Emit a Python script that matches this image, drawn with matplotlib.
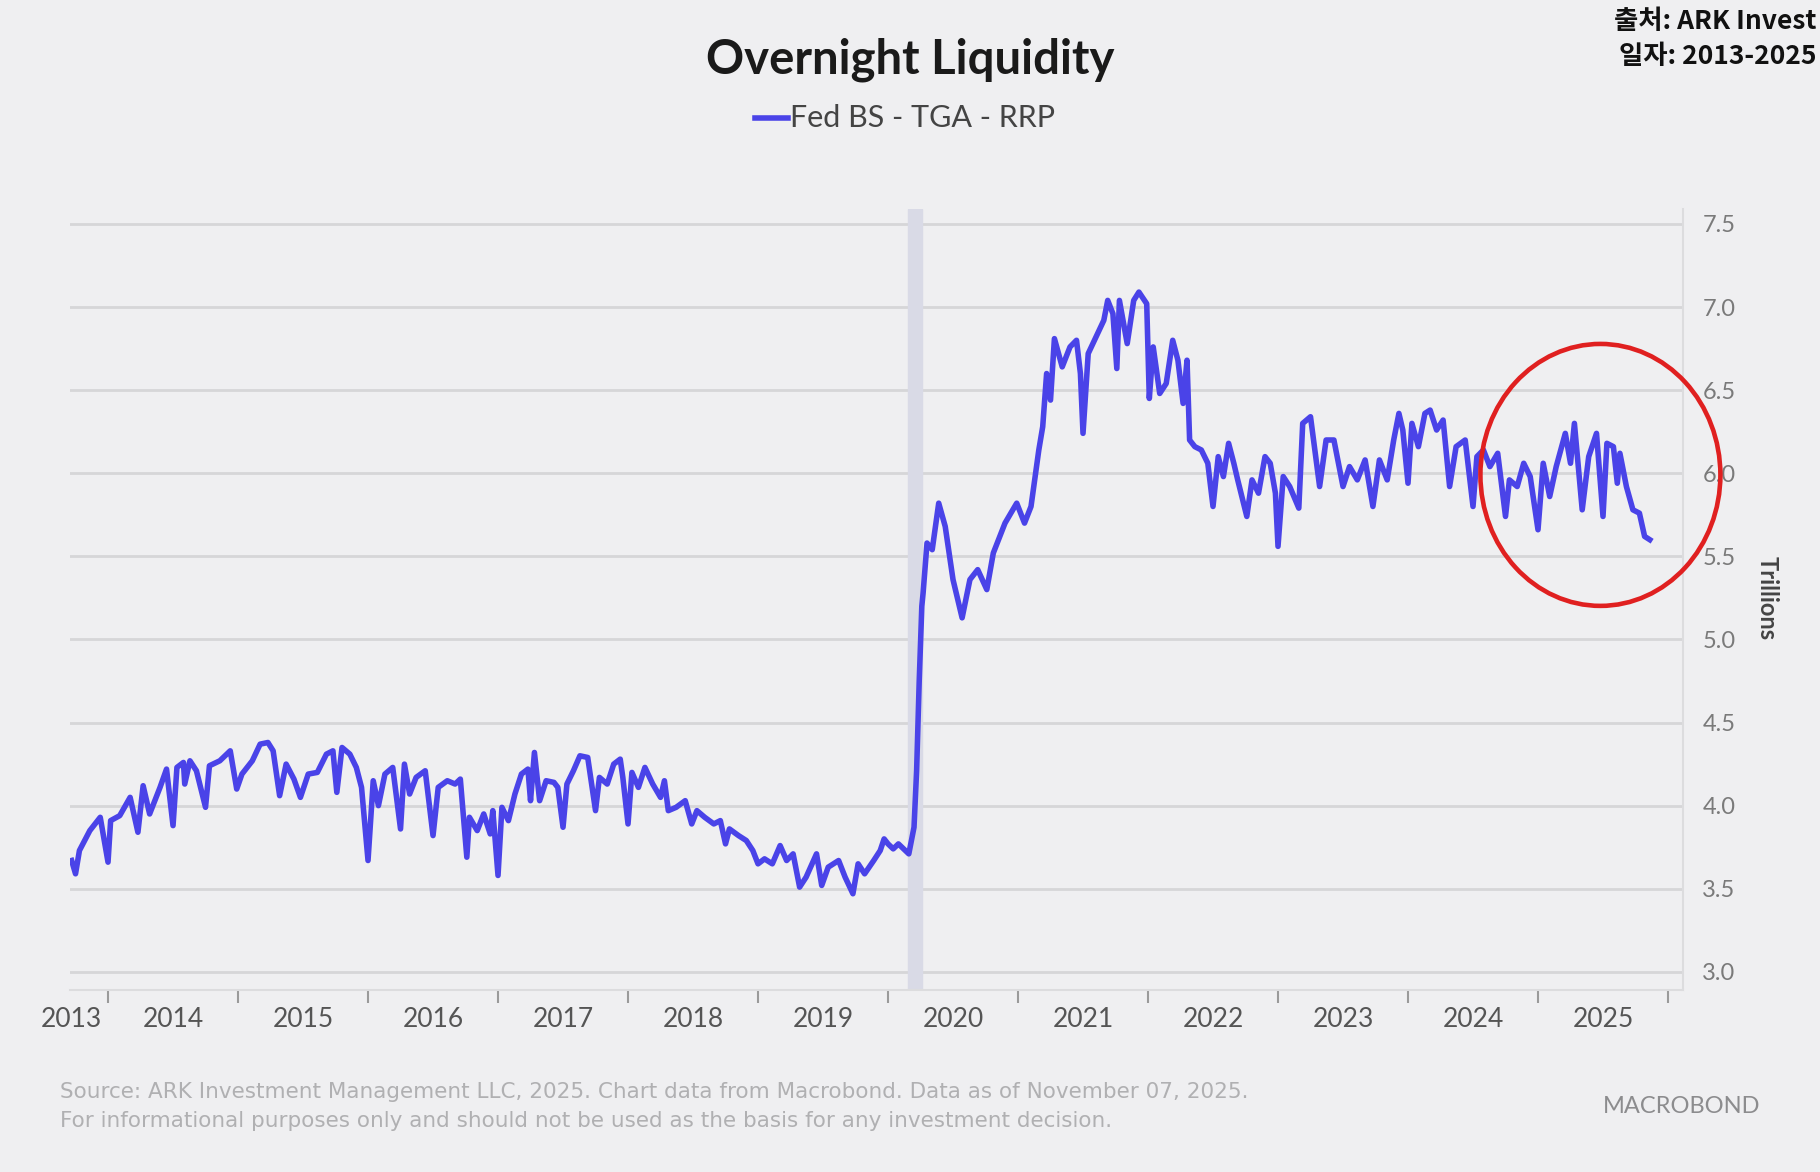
import numpy as np
import matplotlib.pyplot as plt
from matplotlib.patches import Ellipse

# Datos (año decimal, billones de USD)
years = np.array([
    2013.72, 2013.75, 2013.78, 2013.86, 2013.94, 2014.00, 2014.02, 2014.09, 2014.17, 2014.23,
    2014.27, 2014.32, 2014.40, 2014.45, 2014.50, 2014.53, 2014.58, 2014.59, 2014.63, 2014.68,
    2014.75, 2014.78, 2014.86, 2014.94, 2014.99, 2015.03, 2015.11, 2015.17, 2015.23, 2015.27,
    2015.32, 2015.37, 2015.43, 2015.48, 2015.54, 2015.61, 2015.68, 2015.73, 2015.76, 2015.80,
    2015.86, 2015.91, 2015.95, 2016.00, 2016.04, 2016.08, 2016.13, 2016.19, 2016.25, 2016.28,
    2016.32, 2016.37, 2016.44, 2016.50, 2016.54, 2016.61, 2016.67, 2016.71, 2016.76, 2016.78,
    2016.84, 2016.89, 2016.94, 2016.96, 2017.00, 2017.03, 2017.08, 2017.13, 2017.18, 2017.23,
    2017.25, 2017.28, 2017.32, 2017.37, 2017.43, 2017.46, 2017.50, 2017.53, 2017.58, 2017.63,
    2017.69, 2017.75, 2017.78, 2017.84, 2017.89, 2017.94, 2017.96, 2018.00, 2018.03, 2018.08,
    2018.13, 2018.19, 2018.25, 2018.28, 2018.31, 2018.37, 2018.44, 2018.49, 2018.53, 2018.59,
    2018.66, 2018.71, 2018.75, 2018.78, 2018.85, 2018.91, 2018.96, 2019.00, 2019.05, 2019.11,
    2019.17, 2019.22, 2019.27, 2019.32, 2019.37, 2019.45, 2019.49, 2019.54, 2019.62, 2019.67,
    2019.73, 2019.77, 2019.82, 2019.89, 2019.94, 2019.97, 2020.00, 2020.04, 2020.08, 2020.12,
    2020.16, 2020.20, 2020.22, 2020.24, 2020.26, 2020.27, 2020.30, 2020.34, 2020.39, 2020.44,
    2020.50, 2020.57, 2020.63, 2020.69, 2020.76, 2020.81, 2020.90, 2020.99, 2021.05, 2021.10,
    2021.16, 2021.19, 2021.22, 2021.25, 2021.28, 2021.34, 2021.40, 2021.45, 2021.48, 2021.50,
    2021.54, 2021.60, 2021.66, 2021.69, 2021.73, 2021.76, 2021.78, 2021.84, 2021.89, 2021.93,
    2021.99, 2022.01, 2022.04, 2022.09, 2022.14, 2022.19, 2022.23, 2022.27, 2022.30, 2022.32,
    2022.36, 2022.41, 2022.46, 2022.50, 2022.54, 2022.58, 2022.62, 2022.66, 2022.69, 2022.76,
    2022.80, 2022.85, 2022.90, 2022.94, 2022.98, 2023.00, 2023.04, 2023.09, 2023.16, 2023.19,
    2023.25, 2023.28, 2023.32, 2023.37, 2023.43, 2023.50, 2023.55, 2023.61, 2023.67, 2023.73,
    2023.78, 2023.84, 2023.89, 2023.93, 2023.96, 2024.00, 2024.03, 2024.08, 2024.13, 2024.17,
    2024.22, 2024.27, 2024.32, 2024.37, 2024.44, 2024.50, 2024.53, 2024.58, 2024.63, 2024.69,
    2024.75, 2024.78, 2024.84, 2024.89, 2024.94, 2025.00, 2025.04, 2025.09, 2025.14, 2025.21,
    2025.25, 2025.28, 2025.34, 2025.39, 2025.45, 2025.50, 2025.53, 2025.58, 2025.61, 2025.63,
    2025.68, 2025.73, 2025.78, 2025.82, 2025.86,
])
liquidez = np.array([
    3.67, 3.59, 3.73, 3.85, 3.93, 3.66, 3.91, 3.94, 4.05, 3.84,
    4.12, 3.95, 4.11, 4.22, 3.88, 4.23, 4.26, 4.13, 4.27, 4.21,
    3.99, 4.24, 4.27, 4.33, 4.10, 4.19, 4.27, 4.37, 4.38, 4.33,
    4.06, 4.25, 4.16, 4.05, 4.19, 4.20, 4.31, 4.33, 4.08, 4.35,
    4.31, 4.23, 4.11, 3.67, 4.15, 4.00, 4.19, 4.23, 3.86, 4.25,
    4.07, 4.17, 4.21, 3.82, 4.11, 4.15, 4.13, 4.16, 3.69, 3.93,
    3.85, 3.95, 3.83, 3.97, 3.58, 3.99, 3.91, 4.07, 4.19, 4.22,
    4.03, 4.32, 4.03, 4.15, 4.14, 4.11, 3.87, 4.13, 4.21, 4.30,
    4.29, 3.97, 4.17, 4.13, 4.25, 4.28, 4.17, 3.89, 4.20, 4.11,
    4.23, 4.13, 4.05, 4.15, 3.97, 3.99, 4.03, 3.89, 3.97, 3.93,
    3.89, 3.91, 3.77, 3.86, 3.82, 3.79, 3.73, 3.65, 3.68, 3.65,
    3.76, 3.67, 3.71, 3.51, 3.57, 3.71, 3.52, 3.63, 3.67, 3.57,
    3.47, 3.65, 3.59, 3.67, 3.73, 3.80, 3.77, 3.74, 3.77, 3.74,
    3.71, 3.87, 4.21, 4.75, 5.20, 5.28, 5.58, 5.54, 5.82, 5.68,
    5.36, 5.13, 5.36, 5.42, 5.30, 5.52, 5.70, 5.82, 5.70, 5.80,
    6.14, 6.28, 6.60, 6.44, 6.81, 6.64, 6.76, 6.80, 6.60, 6.24,
    6.72, 6.82, 6.92, 7.04, 6.96, 6.63, 7.04, 6.78, 7.04, 7.09,
    7.02, 6.45, 6.76, 6.48, 6.54, 6.80, 6.68, 6.42, 6.68, 6.20,
    6.16, 6.14, 6.06, 5.80, 6.10, 5.98, 6.18, 6.06, 5.96, 5.74,
    5.96, 5.88, 6.10, 6.06, 5.88, 5.56, 5.98, 5.92, 5.79, 6.30,
    6.34, 6.16, 5.92, 6.20, 6.20, 5.92, 6.04, 5.96, 6.08, 5.80,
    6.08, 5.96, 6.20, 6.36, 6.26, 5.94, 6.30, 6.16, 6.36, 6.38,
    6.26, 6.32, 5.92, 6.16, 6.20, 5.80, 6.10, 6.14, 6.04, 6.12,
    5.74, 5.96, 5.92, 6.06, 5.98, 5.66, 6.06, 5.86, 6.04, 6.24,
    6.06, 6.30, 5.78, 6.10, 6.24, 5.74, 6.18, 6.16, 5.94, 6.12,
    5.92, 5.78, 5.76, 5.62, 5.60,
])

# Ejes
y_ticks = [3.0, 3.5, 4.0, 4.5, 5.0, 5.5, 6.0, 6.5, 7.0, 7.5]
year_bounds = list(range(2014, 2027))
year_labels = [str(y) for y in range(2013, 2026)]
label_pos = [2013.72] + [y + 0.5 for y in range(2014, 2026)]
recesion = (2020.15, 2020.26)

fondo = '#efeff1'
azul = '#4a43e8'

fig = plt.figure(figsize=(18.2, 11.72), dpi=100, facecolor=fondo)
ax = fig.add_axes([0.0385, 0.1553, 0.8862, 0.6664], facecolor=fondo)

ax.axvspan(recesion[0], recesion[1], color='#d9dae6', zorder=1)
for v in y_ticks:
    ax.axhline(v, color='#d6d6d8', lw=2, zorder=0)
ax.plot(years, liquidez, color=azul, lw=4, zorder=3, solid_joinstyle='round')

ax.set_xlim(2013.708, 2026.115)
ax.set_ylim(2.891, 7.59)

for s in ['top', 'left']:
    ax.spines[s].set_visible(False)
ax.spines['right'].set_color('#dcdcde')
ax.spines['bottom'].set_color('#dcdcde')
ax.spines['right'].set_linewidth(1.5)
ax.spines['bottom'].set_linewidth(1.5)

ax.yaxis.tick_right()
ax.set_yticks(y_ticks)
ax.set_yticklabels([f'{v:.1f}' for v in y_ticks], fontsize=17, color='#7a7a7a', family='Lato')
ax.tick_params(axis='y', length=0, pad=14)

ax.set_xticks(year_bounds)
ax.set_xticklabels([])
ax.tick_params(axis='x', which='major', length=9, width=1.5, color='#9a9a9a')
ax.set_xticks(label_pos, minor=True)
ax.set_xticklabels(year_labels, minor=True, fontsize=19, color='#555555', family='Lato')
ax.tick_params(axis='x', which='minor', length=0, pad=12)

fig.text(0.971, 0.49, 'Trillions', rotation=-90, ha='center', va='center',
         fontsize=17, fontweight='bold', color='#444444', family='Lato')

# Título y leyenda
fig.text(0.5, 0.949, 'Overnight Liquidity', ha='center', va='center',
         fontsize=34, fontweight='bold', color='#1a1a1a', family='Lato')
fig.add_artist(plt.Line2D([0.415, 0.433], [0.899, 0.899], color=azul, lw=4))
fig.text(0.434, 0.899, 'Fed BS - TGA - RRP', ha='left', va='center',
         fontsize=22, color='#444444', family='Lato')

# Fuente
fig.text(0.998, 0.993, '출처: ARK Invest\n일자: 2013-2025', ha='right', va='top',
         fontsize=19, fontweight='bold', color='#111111', linespacing=1.35,
         family=['Noto Sans CJK KR', 'DejaVu Sans'])
fig.text(0.033, 0.056, 'Source: ARK Investment Management LLC, 2025. Chart data from Macrobond. '
         'Data as of November 07, 2025.\nFor informational purposes only and should not be used '
         'as the basis for any investment decision.', ha='left', va='center',
         fontsize=15.5, color='#b0b0b2', linespacing=1.55, family='DejaVu Sans')
fig.text(0.924, 0.056, 'MACROBOND', ha='center', va='center', fontsize=17,
         color='#8c8c8e', family='Lato')

# Círculo rojo
ax.add_patch(Ellipse((2025.48, 5.99), 1.846, 1.576, fill=False, edgecolor='#e02020',
                     lw=3.3, clip_on=False, zorder=5))

plt.savefig('out.png', dpi=100, facecolor=fondo)
